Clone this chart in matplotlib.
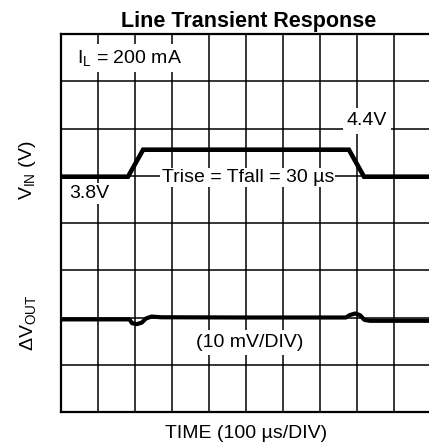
import matplotlib
matplotlib.use("Agg")
import matplotlib.pyplot as plt

# time in microseconds (100 us per division)
vin_time = [0, 181, 222, 778, 819, 1000]
vin_volts = [3.8, 3.8, 4.4, 4.4, 3.8, 3.8]

vout_time = [0, 185, 192, 205, 218, 230, 245, 270, 500, 770, 780, 795, 808, 820, 835, 1000]
vout_mv = [0, 0, -0.8, -1.0, -0.7, 0.2, 0.6, 0.45, 0.4, 0.4, 0.9, 1.25, 0.9, -0.1, -0.3, -0.3]

N_XDIV = 10
N_YDIV = 8
US_PER_DIV = 100
VIN_POS, VIN_PER_DIV = 4.98, 1.05     # screen position of 3.8 V, volts per division
VOUT_POS, MV_PER_DIV = 1.96, 10.0

plt.rcParams.update({
    "font.family": ["Liberation Sans", "DejaVu Sans"],
    "font.size": 14,
    "mathtext.fontset": "custom",
    "mathtext.rm": "Liberation Sans",
    "mathtext.it": "Liberation Sans:italic",
})

fig = plt.figure(figsize=(4.29, 4.42), dpi=100)
# right edge runs just past the figure, as in the original scope capture
ax = fig.add_axes([61 / 429, 30 / 442, 370 / 429, 378 / 442])

vin_y = [VIN_POS + (v - 3.8) / VIN_PER_DIV for v in vin_volts]
vout_y = [VOUT_POS + m / MV_PER_DIV for m in vout_mv]
ax.plot(vin_time, vin_y, color="black", lw=3.3, solid_joinstyle="miter", zorder=5)
ax.plot(vout_time, vout_y, color="black", lw=3.0, zorder=5)

ax.set_xlim(0, N_XDIV * US_PER_DIV)
ax.set_ylim(0, N_YDIV)
ax.set_xticks(range(0, N_XDIV * US_PER_DIV + 1, US_PER_DIV))
ax.set_yticks(range(N_YDIV + 1))
ax.tick_params(length=0, labelbottom=False, labelleft=False)
ax.grid(True, color="black", lw=1.1)
ax.set_axisbelow(True)
for s in ax.spines.values():
    s.set_linewidth(1.6)

box = dict(facecolor="white", edgecolor="none", pad=3)
ax.text(43, 7.39, r"I$_\mathregular{L}$ = 200 mA", ha="left", va="baseline", bbox=box, zorder=4)
ax.text(827, 6.16, "4.4V", ha="center", va="center", bbox=box, zorder=4)
ax.text(77, 4.62, "3.8V", ha="center", va="center", bbox=dict(facecolor="white", edgecolor="none", pad=1.5), zorder=4)
ax.text(505, 4.87, "Trise = Tfall = 30 µs", ha="center", va="baseline",
        bbox=dict(facecolor="white", edgecolor="none", pad=1), zorder=4)
ax.text(509, 1.376, "(10 mV/DIV)", ha="center", va="baseline", bbox=box, zorder=4)

fig.text(249 / 429, 1 - 27 / 442, "Line Transient Response", ha="center", va="baseline",
         fontweight="bold", fontsize=15.5)
fig.text(246 / 429, 1 - 438 / 442, "TIME (100 µs/DIV)", ha="center", va="baseline")
fig.text(28 / 429, 1 - 170 / 442, r"V$_\mathregular{IN}$ (V)", rotation=90, ha="center", va="center")
fig.text(28 / 429, 1 - 323 / 442, r"ΔV$_\mathregular{OUT}$", rotation=90, ha="center", va="center")

fig.savefig("out.png", dpi=100)
